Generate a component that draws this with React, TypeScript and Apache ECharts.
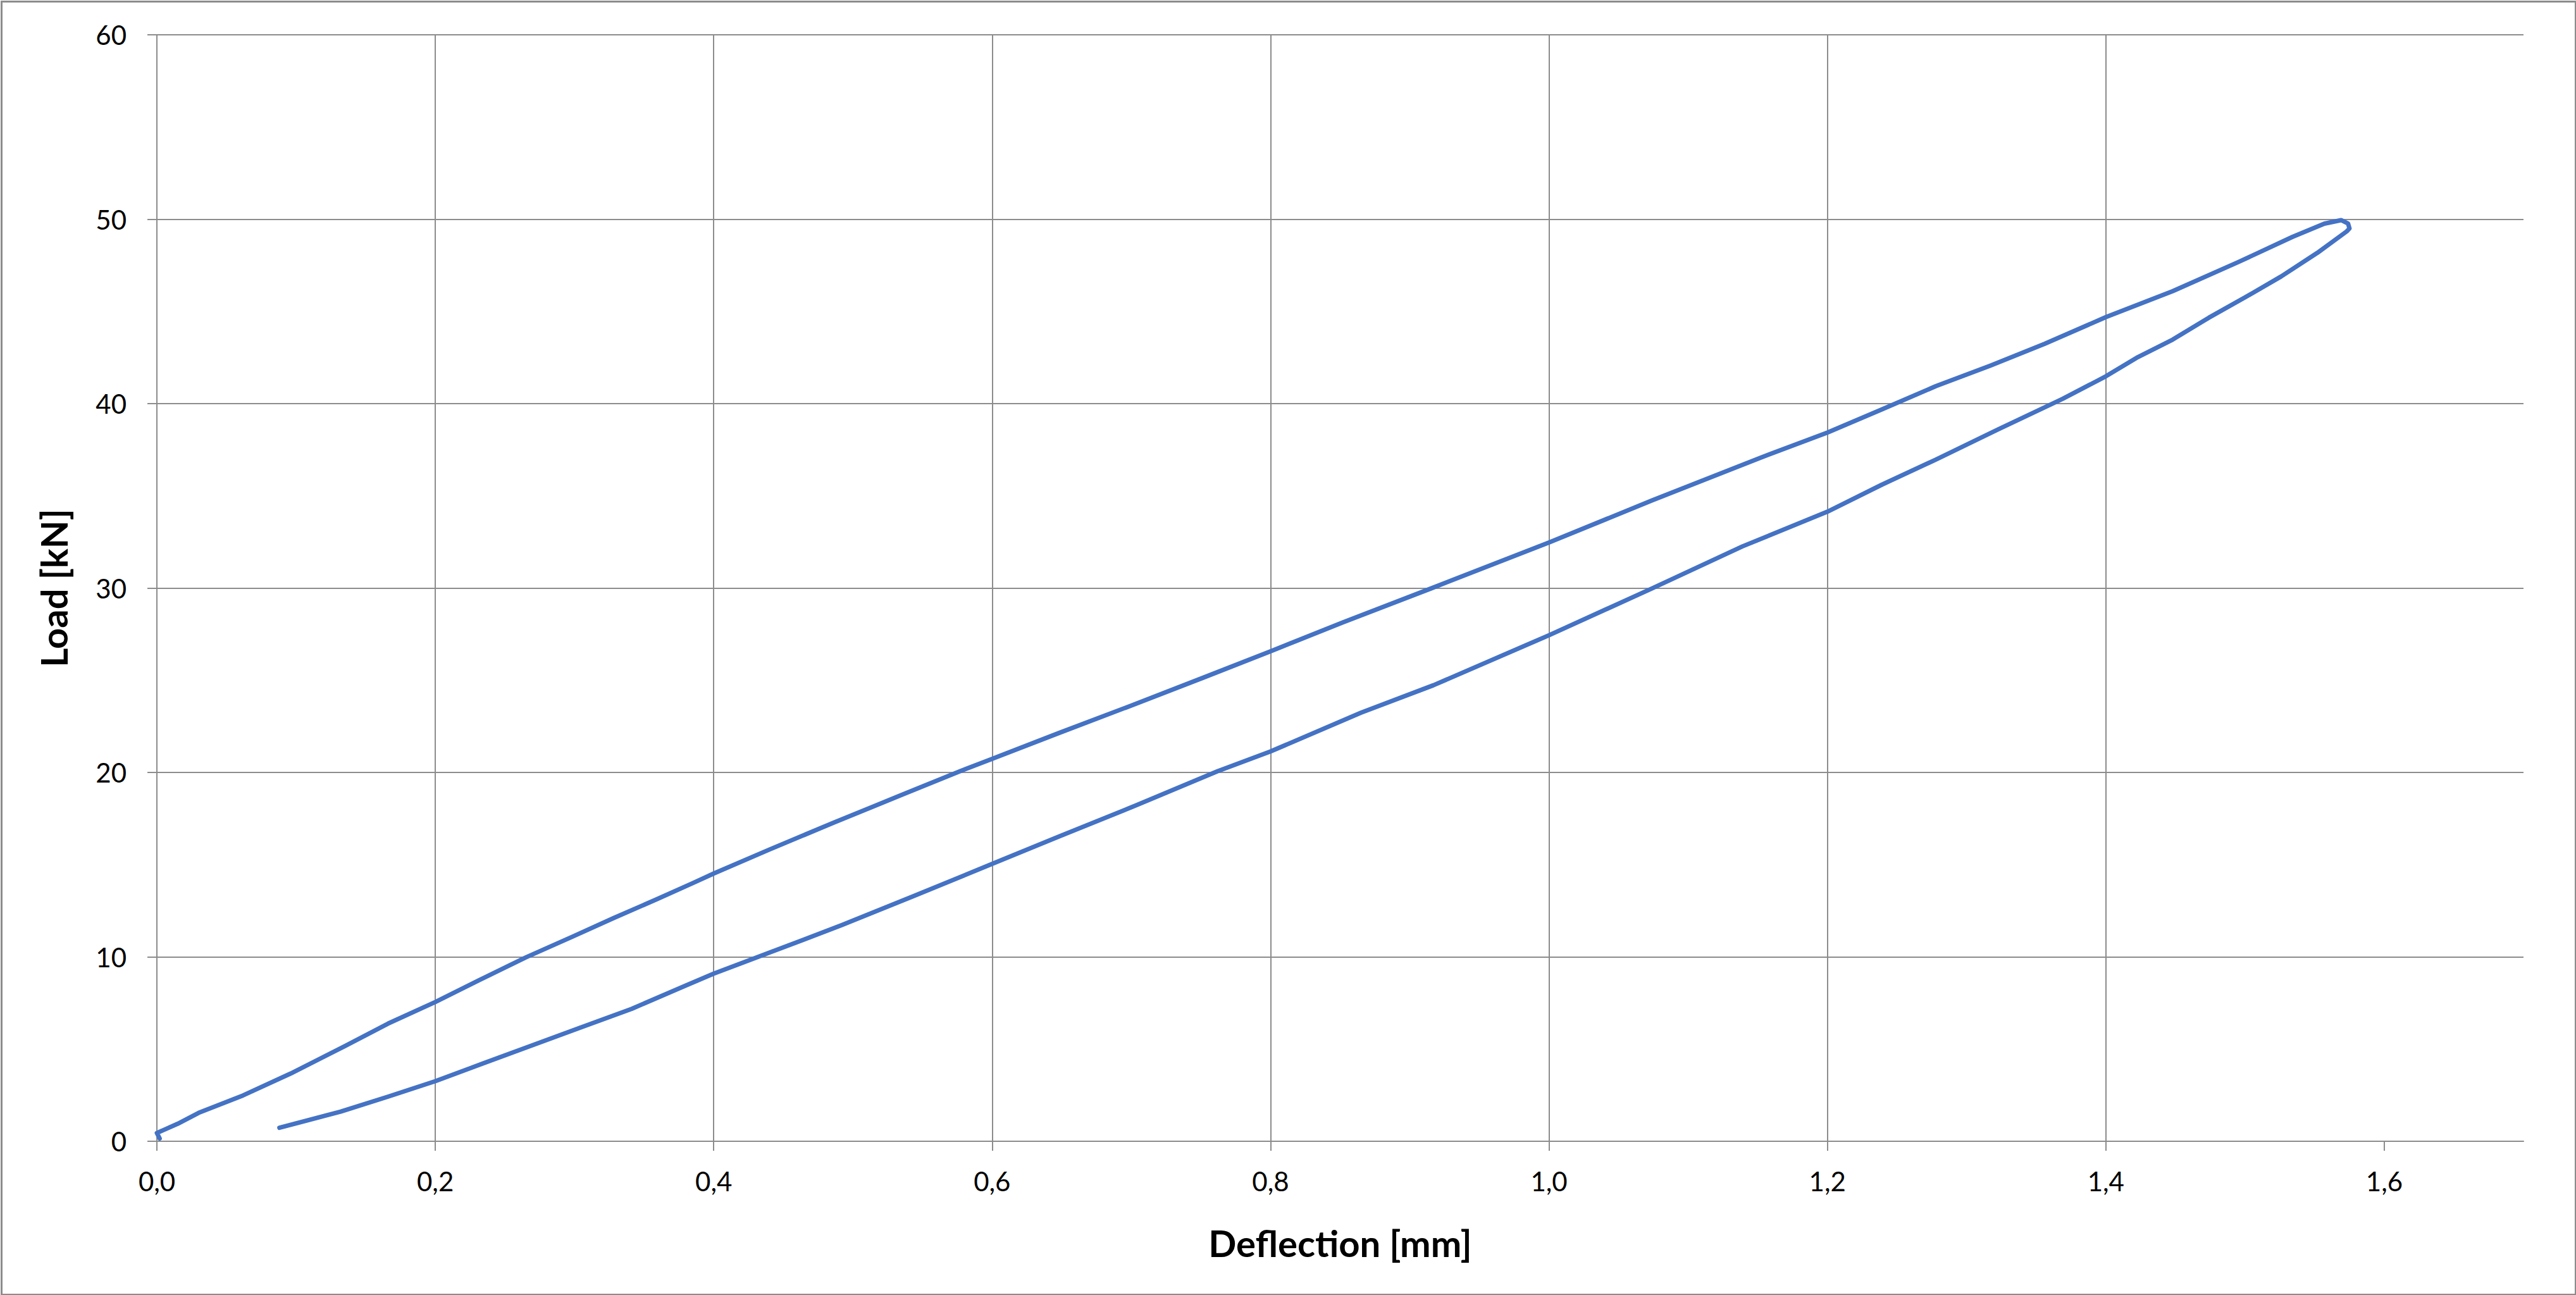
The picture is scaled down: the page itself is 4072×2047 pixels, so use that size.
import React, { useEffect, useRef } from "react";
import * as echarts from "echarts";

const loadingX = [0.002, 0.0, 0.015, 0.03, 0.062, 0.096, 0.135, 0.166, 0.2, 0.231, 0.265, 0.299, 0.328, 0.359, 0.385, 0.4, 0.44, 0.486, 0.533, 0.577, 0.6, 0.648, 0.7, 0.752, 0.8, 0.852, 0.915, 1.0, 1.074, 1.152, 1.2, 1.239, 1.278, 1.317, 1.356, 1.4, 1.448, 1.495, 1.534, 1.557, 1.569, 1.574, 1.575];
const loadingY = [0.15, 0.45, 0.95, 1.54, 2.49, 3.67, 5.16, 6.38, 7.55, 8.72, 9.97, 11.11, 12.1, 13.12, 14.0, 14.52, 15.82, 17.27, 18.72, 20.07, 20.74, 22.14, 23.63, 25.15, 26.57, 28.14, 29.97, 32.47, 34.75, 37.07, 38.43, 39.68, 40.95, 42.06, 43.24, 44.69, 46.1, 47.67, 49.04, 49.76, 49.95, 49.76, 49.5];

const unloadingX = [1.573, 1.552, 1.526, 1.5, 1.474, 1.448, 1.422, 1.4, 1.369, 1.322, 1.278, 1.239, 1.2, 1.139, 1.074, 1.0, 0.917, 0.865, 0.8, 0.762, 0.7, 0.648, 0.6, 0.5435, 0.492, 0.44, 0.4, 0.38, 0.341, 0.304, 0.262, 0.226, 0.2, 0.166, 0.132, 0.088];
const unloadingY = [49.34, 48.18, 46.9, 45.76, 44.66, 43.47, 42.48, 41.48, 40.26, 38.58, 36.97, 35.6, 34.14, 32.26, 29.98, 27.44, 24.73, 23.24, 21.14, 20.07, 18.11, 16.53, 15.04, 13.29, 11.72, 10.23, 9.09, 8.45, 7.18, 6.16, 4.99, 3.99, 3.26, 2.42, 1.61, 0.73];

const xTicks = [0, 0.2, 0.4, 0.6, 0.8, 1.0, 1.2, 1.4, 1.6];
const yTicks = [0, 10, 20, 30, 40, 50, 60];

const xTitle = "Deflection [mm]";
const yTitle = "Load [kN]";

const W = 4072;
const H = 2047;
const GRID_COLOR = "#8c8c8c";

export default function App() {
  const ref = useRef<HTMLDivElement>(null);

  useEffect(() => {
    if (!ref.current) return;
    const chart = echarts.init(ref.current, undefined, { renderer: "svg" });
    const data: [number, number][] = [];
    loadingX.forEach((x, i) => data.push([x, loadingY[i]]));
    unloadingX.forEach((x, i) => data.push([x, unloadingY[i]]));

    chart.setOption({
      animation: false,
      backgroundColor: "#ffffff",
      textStyle: { fontFamily: "Lato" },
      grid: { left: 248, right: 83, top: 55, bottom: 243, containLabel: false },
      xAxis: {
        type: "value",
        min: 0,
        max: 1.7,
        interval: 0.2,
        name: xTitle,
        nameLocation: "middle",
        nameGap: 131,
        nameTextStyle: { fontFamily: "Lato", fontWeight: "bold", fontSize: 58, color: "#000" },
        axisLine: { show: true, onZero: false, lineStyle: { color: GRID_COLOR, width: 2 } },
        axisTick: {
          show: true,
          length: 15,
          customValues: xTicks,
          lineStyle: { color: GRID_COLOR, width: 2 },
        },
        axisLabel: {
          show: true,
          customValues: xTicks,
          margin: 42,
          fontFamily: "Lato",
          fontSize: 42,
          color: "#000",
          formatter: (v: number) => v.toFixed(1).replace(".", ","),
        },
        splitLine: { show: true, showMaxLine: false, lineStyle: { color: GRID_COLOR, width: 2 } },
      },
      yAxis: {
        type: "value",
        min: 0,
        max: 60,
        interval: 10,
        name: yTitle,
        nameLocation: "middle",
        nameGap: 135,
        nameRotate: 90,
        nameTextStyle: { fontFamily: "Lato", fontWeight: "bold", fontSize: 58, color: "#000" },
        axisLine: { show: true, lineStyle: { color: GRID_COLOR, width: 2 } },
        axisTick: { show: true, length: 15, lineStyle: { color: GRID_COLOR, width: 2 } },
        axisLabel: {
          show: true,
          margin: 48,
          fontFamily: "Lato",
          fontSize: 42,
          color: "#000",
          customValues: yTicks,
        },
        splitLine: { show: true, lineStyle: { color: GRID_COLOR, width: 2 } },
      },
      graphic: [
        {
          type: "rect",
          left: 0,
          top: 0,
          shape: { x: 1.5, y: 1.5, width: W - 3, height: H - 3 },
          style: { fill: "none", stroke: GRID_COLOR, lineWidth: 3 },
          silent: true,
          z: 100,
        },
      ],
      series: [
        {
          type: "line",
          data,
          showSymbol: false,
          symbol: "none",
          smooth: false,
          clip: false,
          lineStyle: { color: "#4472C4", width: 7, cap: "round", join: "round" },
        },
      ],
    });
    return () => chart.dispose();
  }, []);

  return (
    <div
      ref={ref}
      style={{ position: "fixed", left: 0, top: 0, width: W, height: H, background: "#fff" }}
    />
  );
}
